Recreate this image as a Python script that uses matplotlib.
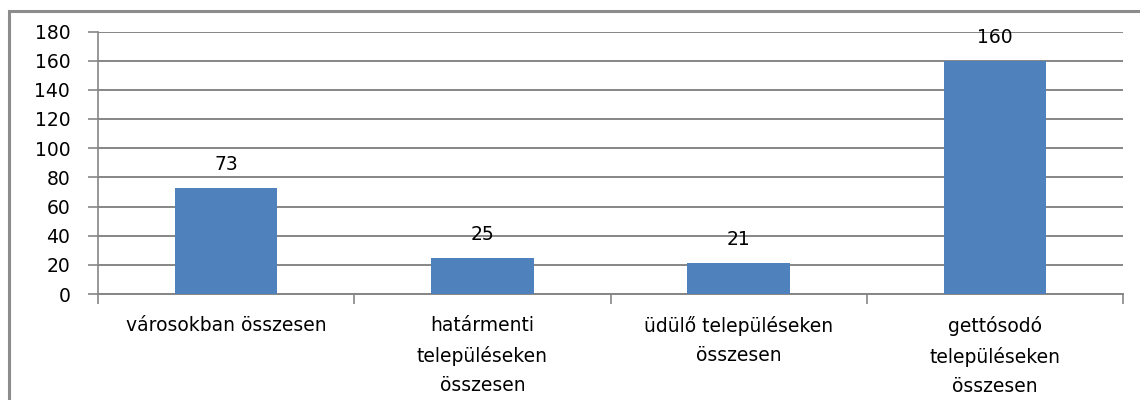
import matplotlib.pyplot as plt
from matplotlib.patches import Rectangle

categories = ['városokban összesen',
              'határmenti\ntelepüléseken\nösszesen',
              'üdülő településeken\nösszesen',
              'gettósodó\ntelepüléseken\nösszesen']
values = [73, 25, 21, 160]

W, H = 1140, 400
fig = plt.figure(figsize=(W / 100, H / 100), dpi=100)
ax = fig.add_axes([98 / W, 1 - 294 / H, (1123 - 98) / W, (294 - 31.5) / H])

bar_color = '#4f81bd'
grid_color = '#868686'
fs = 13.5

x = range(len(values))
bars = ax.bar(x, values, width=0.4, color=bar_color, zorder=3)

for xi, v in zip(x, values):
    ax.annotate(str(v), (xi, v), xytext=(0, 10), textcoords='offset points',
                ha='center', va='bottom', fontsize=fs, color='black')

ax.set_xlim(-0.5, len(values) - 0.5)
ax.set_ylim(0, 180)
ax.set_yticks(range(0, 181, 20))
ax.yaxis.grid(True, color=grid_color, linewidth=1.4, zorder=0)
ax.set_axisbelow(True)

# category ticks between groups
ax.set_xticks([i - 0.5 for i in range(len(values) + 1)])
ax.set_xticklabels([])
ax.set_xticks(list(x), minor=True)
ax.set_xticklabels(categories, minor=True, fontsize=fs, linespacing=1.68, va='top')
ax.tick_params(axis='x', which='minor', length=0, pad=16)
ax.tick_params(axis='x', which='major', length=7, color=grid_color, width=1.2)
ax.tick_params(axis='y', length=7, color=grid_color, width=1.2, labelsize=fs, pad=13)

for s in ['top', 'right']:
    ax.spines[s].set_visible(False)
ax.spines['left'].set_color(grid_color)
ax.spines['bottom'].set_color(grid_color)
ax.spines['left'].set_linewidth(1.2)
ax.spines['bottom'].set_linewidth(1.4)

# outer chart border
fig.patches.append(Rectangle((9 / W, -0.05), 1.05, 1 - 11 / H + 0.05,
                             transform=fig.transFigure, fill=False,
                             edgecolor='#8c8c8c', linewidth=2.2))

fig.savefig('out.png', dpi=100)
